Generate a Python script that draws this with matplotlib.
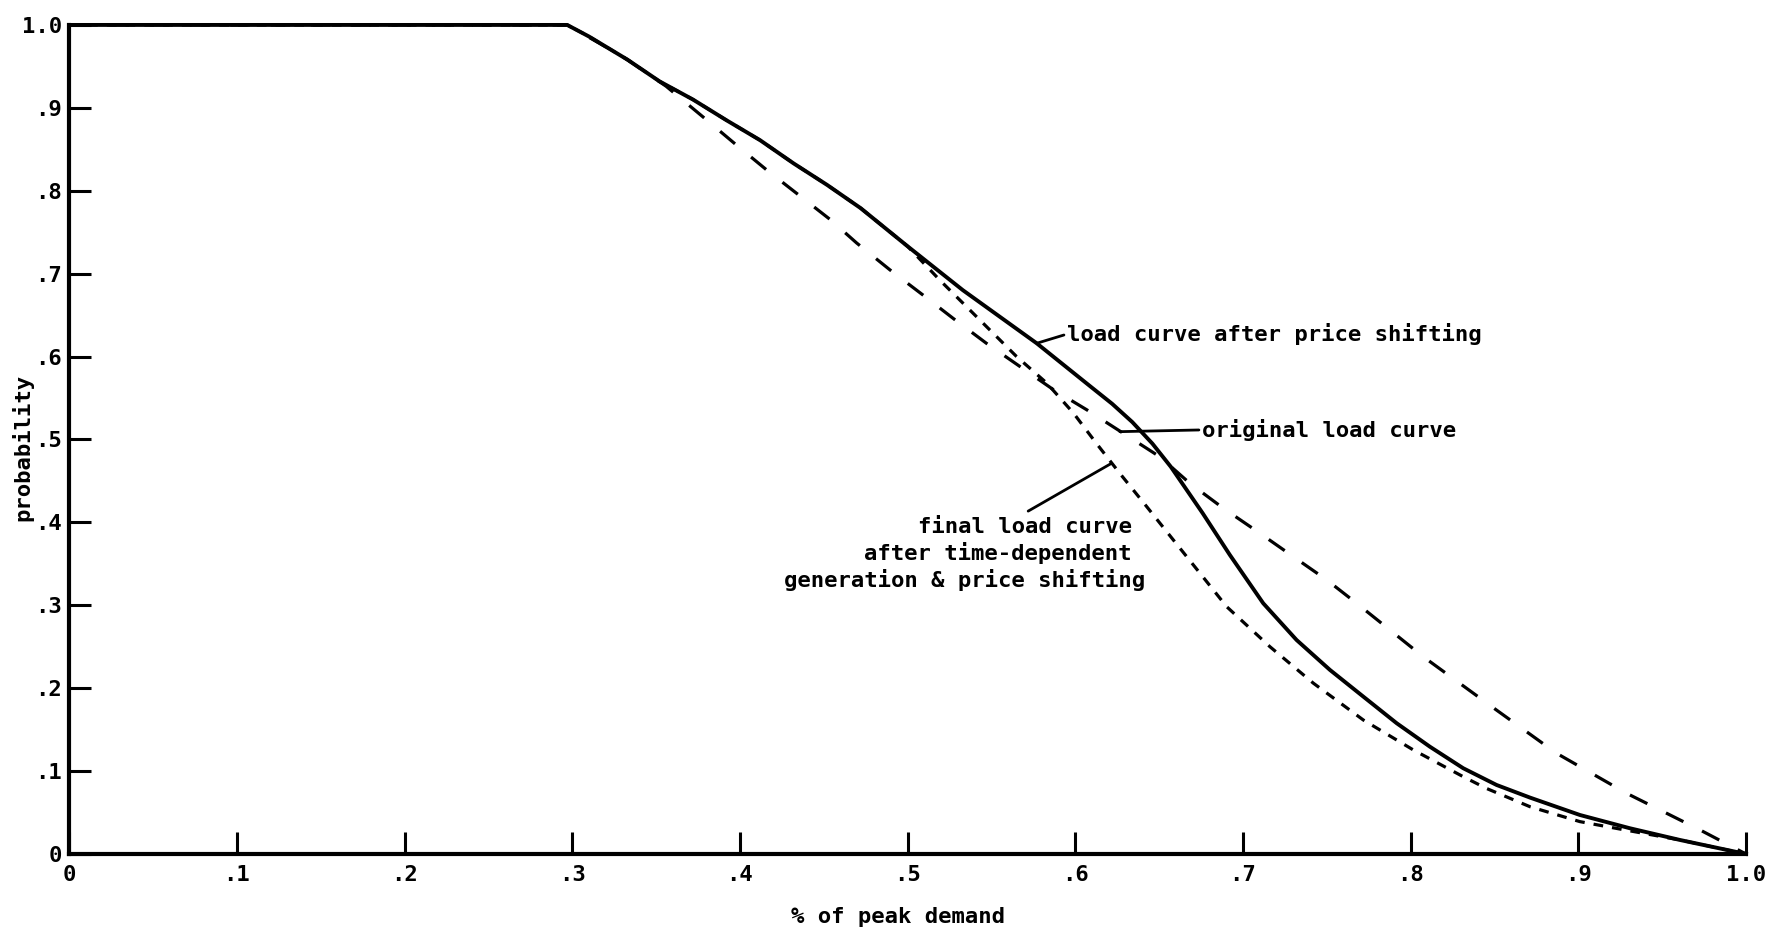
import matplotlib
matplotlib.use('Agg')
import matplotlib.pyplot as plt

plt.rcParams['font.family'] = ['DejaVu Sans Mono']
plt.rcParams['font.weight'] = 'bold'
plt.rcParams['axes.labelweight'] = 'bold'
plt.rcParams['lines.scale_dashes'] = False

# load curve after price shifting (solid)
shift_x = [0, 0.297, 0.31, 0.333, 0.352, 0.372, 0.392, 0.412, 0.432, 0.452, 0.472, 0.50,
           0.533, 0.577, 0.609, 0.622, 0.634, 0.646, 0.657, 0.676, 0.6922, 0.7121, 0.732,
           0.7519, 0.7718, 0.7917, 0.8115, 0.8314, 0.8513, 0.8712, 0.901, 0.9308, 0.9606, 1.0]
shift_y = [1.0, 1.0, 0.986, 0.958, 0.932, 0.910, 0.885, 0.861, 0.833, 0.807, 0.779, 0.733,
           0.680, 0.616, 0.564, 0.543, 0.521, 0.495, 0.467, 0.411, 0.3607, 0.3024, 0.2581,
           0.222, 0.1898, 0.1577, 0.1294, 0.1034, 0.0832, 0.068, 0.047, 0.031, 0.0169, 0.0]

# original load curve (long dashes)
orig_x = [0, 0.297, 0.33, 0.356, 0.378, 0.398, 0.416, 0.435, 0.454, 0.4696, 0.4895, 0.5093,
          0.5272, 0.547, 0.567, 0.587, 0.607, 0.6286, 0.6505, 0.6684, 0.6883, 0.710, 0.730,
          0.750, 0.7678, 0.8075, 0.8484, 0.887, 0.9288, 0.9726, 1.0]
orig_y = [1.0, 1.0, 0.962, 0.926, 0.889, 0.855, 0.825, 0.795, 0.765, 0.737, 0.7045, 0.674,
          0.646, 0.616, 0.588, 0.560, 0.5356, 0.5075, 0.479, 0.447, 0.417, 0.387, 0.3587,
          0.3305, 0.3024, 0.238, 0.1777, 0.1215, 0.0732, 0.029, 0.0]

# final load curve after time-dependent generation & price shifting (short dashes)
final_x = [0, 0.297, 0.31, 0.333, 0.352, 0.372, 0.392, 0.412, 0.432, 0.452, 0.472, 0.50,
           0.5193, 0.5352, 0.5491, 0.565, 0.583, 0.599, 0.6127, 0.6266, 0.6426, 0.6584,
           0.6744, 0.6903, 0.7161, 0.742, 0.7718, 0.8016, 0.8314, 0.8453, 0.8712, 0.901,
           0.925, 0.9606, 1.0]
final_y = [1.0, 1.0, 0.986, 0.958, 0.932, 0.910, 0.885, 0.861, 0.833, 0.807, 0.779, 0.733,
           0.692, 0.660, 0.632, 0.600, 0.568, 0.5316, 0.495, 0.459, 0.419, 0.379,
           0.3386, 0.2983, 0.250, 0.206, 0.1616, 0.1255, 0.0932, 0.079, 0.057, 0.039,
           0.030, 0.0169, 0.0]

xticks = [0, .1, .2, .3, .4, .5, .6, .7, .8, .9, 1.0]
xtick_labels = ['0', '.1', '.2', '.3', '.4', '.5', '.6', '.7', '.8', '.9', '1.0']
yticks = [0, .1, .2, .3, .4, .5, .6, .7, .8, .9, 1.0]
ytick_labels = ['0', '.1', '.2', '.3', '.4', '.5', '.6', '.7', '.8', '.9', '1.0']

fig = plt.figure(figsize=(17.81, 9.34), dpi=100)
ax = fig.add_axes([0.0389, 0.0857, 0.9414, 0.8876])

ax.plot(orig_x, orig_y, color='black', lw=2.3, ls=(0, (14, 15)), clip_on=False)
ax.plot(final_x, final_y, color='black', lw=2.3, ls=(0, (7, 6.5)), clip_on=False)
ax.plot(shift_x, shift_y, color='black', lw=2.8, clip_on=False, solid_joinstyle='round')

ax.set_xlim(0, 1.0)
ax.set_ylim(0, 1.0)
ax.spines['top'].set_visible(False)
ax.spines['right'].set_visible(False)
ax.spines['left'].set_linewidth(3)
ax.spines['bottom'].set_linewidth(3)

ax.set_xticks(xticks)
ax.set_xticklabels(xtick_labels)
ax.set_yticks(yticks)
ax.set_yticklabels(ytick_labels)
ax.tick_params(direction='in', length=16, width=2.2, labelsize=16, color='black')
ax.tick_params(axis='x', pad=8)
ax.tick_params(axis='y', pad=5)

ax.set_xlabel('% of peak demand', fontsize=16)
ax.xaxis.set_label_coords(0.494, -0.0636)
ax.set_ylabel('probability', fontsize=16)
ax.yaxis.set_label_coords(-0.0215, 0.49)

# 标注
leader = dict(arrowstyle='-', lw=2, color='black', shrinkA=0, shrinkB=0)
ax.annotate('load curve after price shifting', xy=(0.577, 0.616), xytext=(0.5949, 0.627),
            ha='left', va='center', fontsize=16,
            arrowprops=dict(leader, relpos=(0, 0.5)))
ax.annotate('original load curve', xy=(0.6266, 0.5094), xytext=(0.6754, 0.5115),
            ha='left', va='center', fontsize=16,
            arrowprops=dict(leader, relpos=(0, 0.5)))
ax.annotate('final load curve', xy=(0.6217, 0.4713), xytext=(0.6338, 0.3948),
            ha='right', va='center', fontsize=16,
            arrowprops=dict(leader, relpos=(0.47, 1.0), shrinkA=4))
ax.text(0.6338, 0.3631, 'after time-dependent', ha='right', va='center', fontsize=16)
ax.text(0.6416, 0.3305, 'generation & price shifting', ha='right', va='center', fontsize=16)

fig.savefig('out.png', dpi=100)
